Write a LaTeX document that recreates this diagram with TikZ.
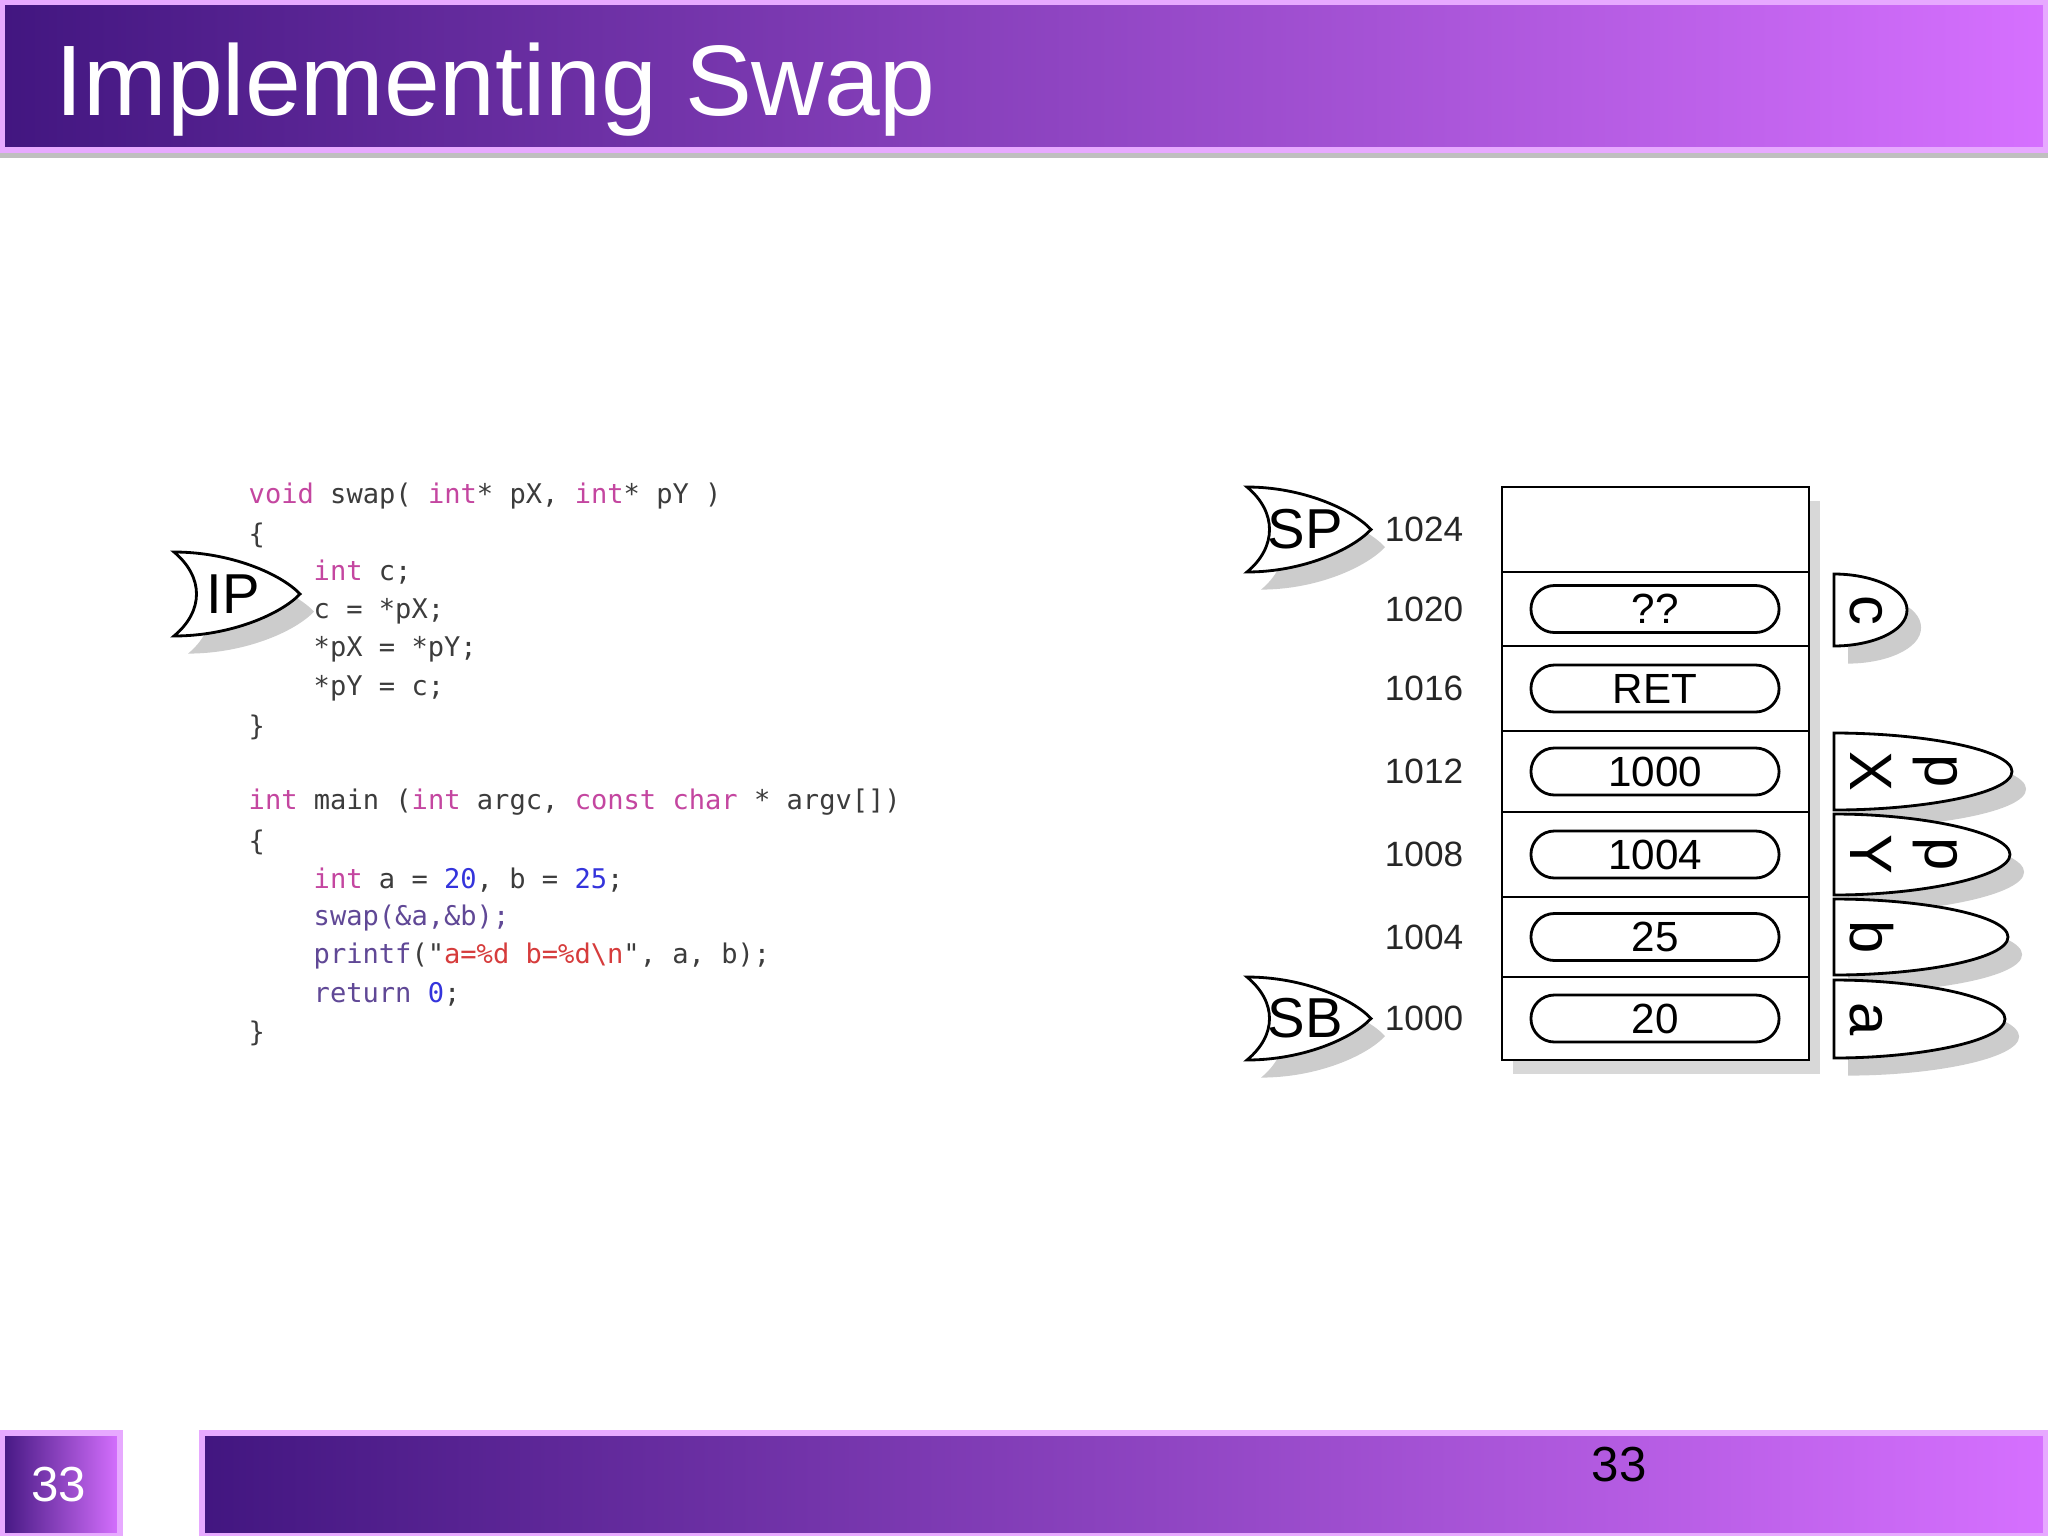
\documentclass[tikz,border=0pt]{standalone}
\usepackage{fontspec}
\setmainfont{Liberation Sans}
\setmonofont{DejaVu Sans Mono}
\usetikzlibrary{positioning, shapes.misc, shadows}
\definecolor{barDark}{RGB}{66,22,128}
\definecolor{barLight}{RGB}{214,112,255}
\definecolor{kwc}{RGB}{196,70,160}
\definecolor{fnc}{RGB}{96,72,150}
\definecolor{numc}{RGB}{52,52,220}
\definecolor{strc}{RGB}{214,60,60}
\definecolor{plainc}{RGB}{60,60,60}
\newcommand\kw[1]{\textcolor{kwc}{#1}}
\newcommand\fn[1]{\textcolor{fnc}{#1}}
\newcommand\nm[1]{\textcolor{numc}{#1}}
\newcommand\st[1]{\textcolor{strc}{#1}}
\tikzset{
	codeline/.style={anchor=west, inner sep=0pt, text=plainc, font=\ttfamily\fontsize{7.7}{9}\selectfont},
	addr/.style={inner sep=0pt, font=\fontsize{10}{12}\selectfont, text=black!85},
	pill/.style={draw, thick, rounded rectangle, minimum width=2.48cm, minimum height=0.47cm, inner sep=0pt, font=\fontsize{12}{14}\selectfont},
	tagline/.style={draw, thick, fill=white, drop shadow={opacity=0.4, shadow xshift=4pt, shadow yshift=-5pt}},
	tagtxt/.style={inner sep=0pt, font=\fontsize{16}{19}\selectfont},
	sidetxt/.style={inner sep=1pt, rotate=-90, anchor=south, align=center, font=\fontsize{17}{21.5}\selectfont},
}
% pointed tag: name, left x, tip x, top, bottom, text
\newcommand\pointtag[6]{%
	\pgfmathsetmacro\midy{(#4+#5)/2}
	\draw[tagline] (#2,#4) .. controls ({#2+0.45*(#3-#2)},#4) and ({#3-0.15*(#3-#2)},{\midy-20}) .. (#3,\midy)
		.. controls ({#3-0.15*(#3-#2)},{\midy+20}) and ({#2+0.45*(#3-#2)},#5) .. (#2,#5)
		.. controls ({#2+30},{#5-25}) and ({#2+30},{#4+25}) .. (#2,#4) -- cycle;
	\node[tagtxt] (#1) at ({#2+0.47*(#3-#2)},\midy) {#6};
}
% name tag on the right of the stack: name, top, bottom, tip x, text
\newcommand\sidetag[5]{%
	\pgfmathsetmacro\midy{(#2+#3)/2}
	\draw[tagline] (1834,#2) .. controls ({(1834+#4)/2},#2) and (#4,{\midy-22}) .. (#4,\midy)
		.. controls (#4,{\midy+22}) and ({(1834+#4)/2},#3) .. (1834,#3) -- cycle;
	\node[sidetxt] (#1) at (1846,\midy) {#5};
}

\begin{document}
\begin{tikzpicture}[x=0.01cm, y=-0.01cm]
	\useasboundingbox (0,0) rectangle (2048,1536);
	\fill[white] (0,0) rectangle (2048,1536);

	% title bar
	\fill[black!25] (0,150) rectangle (2048,158);
	\shade[left color=barDark, right color=barLight] (0,0) rectangle (2048,150);
	\draw[barLight!60!white, line width=1.5pt] (2,2) rectangle (2046,150);
	\node (title) [anchor=base west, text=white, inner sep=0pt, font=\fontsize{28.5}{34}\selectfont] at (55,115) {Implementing Swap};

	% bottom bars
	\shade[left color=barDark, right color=barLight] (0,1431) rectangle (120,1536);
	\draw[barLight!60!white, line width=1.5pt] (2,1433) rectangle (120,1536);
	\shade[left color=barDark, right color=barLight] (202,1431) rectangle (2048,1536);
	\draw[barLight!60!white, line width=1.5pt] (202,1433) rectangle (2046,1536);
	\node (pgbox) [text=white, font=\fontsize{14}{16}\selectfont] at (59,1485) {33};
	\node (pgnum) [text=black, font=\fontsize{14}{16}\selectfont] at (1619,1465) {33};

	% code
	\node[codeline] (l1) at (248,496) {\kw{void} swap( \kw{int}* pX, \kw{int}* pY )};
	\node[codeline] (l2) at (248,535) {\{};
	\node[codeline] (l3) at (313,572) {\kw{int} c;};
	\node[codeline] (l4) at (313,611) {c = *pX;};
	\node[codeline] (l5) at (313,649) {*pX = *pY;};
	\node[codeline] (l6) at (313,688) {*pY = c;};
	\node[codeline] (l7) at (248,727) {\}};
	\node[codeline] (l8) at (248,802) {\kw{int} main (\kw{int} argc, \kw{const} \kw{char} * argv[])};
	\node[codeline] (l9) at (248,842) {\{};
	\node[codeline] (l10) at (313,880) {\kw{int} a = \nm{20}, b = \nm{25};};
	\node[codeline] (l11) at (313,918) {\fn{swap(\&a,\&b);}};
	\node[codeline] (l12) at (313,956) {\fn{printf}("\st{a=\%d b=\%d\textbackslash n}", a, b);};
	\node[codeline] (l13) at (313,994) {\fn{return} \nm{0};};
	\node[codeline] (l14) at (248,1033) {\}};

	\pointtag{ip}{174}{300}{552}{636}{IP}

	% stack
	\foreach \t/\b/\ad [count=\i] in {487/572/1024, 572/646/1020, 646/731/1016, 731/812/1012, 812/897/1008, 897/977/1004, 977/1060/1000}{
		\draw[thick, fill=white, drop shadow={opacity=0.3, shadow xshift=3pt, shadow yshift=-4pt}] (1502,\t) rectangle (1809,\b);
		\node[addr] (addr\i) at (1424,{(\t+\b)/2}) {\ad};
	}
	\foreach \t/\b/\val [count=\i from 2] in {572/646/??, 646/731/RET, 731/812/1000, 812/897/1004, 897/977/25, 977/1060/20}{
		\node[pill] (val\i) at (1655,{(\t+\b)/2}) {\val};
	}

	\pointtag{sp}{1247}{1371}{487}{572}{SP}
	\pointtag{sb}{1247}{1371}{977}{1060}{SB}

	\sidetag{c}{574}{646}{1907}{c}
	\sidetag{px}{733}{810}{2012}{p\\X}
	\sidetag{py}{814}{895}{2010}{p\\Y}
	\sidetag{b}{899}{975}{2008}{b}
	\sidetag{a}{980}{1058}{2005}{a}
\end{tikzpicture}
\end{document}
